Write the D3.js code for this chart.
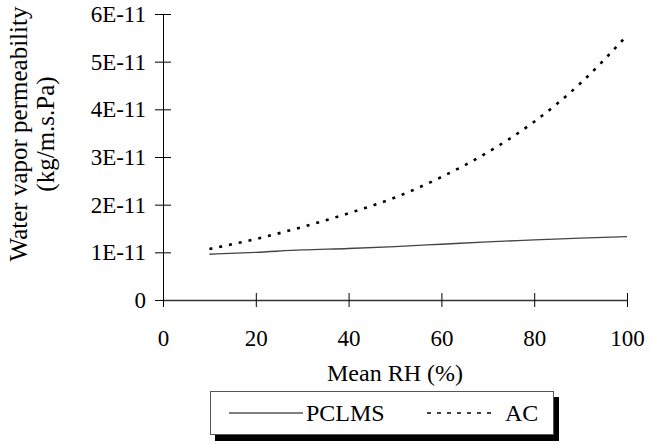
<!DOCTYPE html>
<html>
<head>
  <meta charset="UTF-8">
  <title>Water vapor permeability</title>
  <script src="https://d3js.org/d3.v7.min.js"></script>
</head>
<body style="margin:0; background:#fff">
  <script>
    // data
    var meanRH = [10, 20, 30, 40, 50, 60, 70, 80, 90, 100];
    var pclms = [0.96e-11, 1.00e-11, 1.05e-11, 1.08e-11, 1.12e-11, 1.17e-11, 1.22e-11, 1.26e-11, 1.30e-11, 1.33e-11];
    var ac = [1.07e-11, 1.28e-11, 1.53e-11, 1.82e-11, 2.15e-11, 2.58e-11, 3.10e-11, 3.74e-11, 4.55e-11, 5.55e-11];
    var xTicks = [0, 20, 40, 60, 80, 100];
    var yTicks = [0, 1e-11, 2e-11, 3e-11, 4e-11, 5e-11, 6e-11];
    var yTickLabels = ["0", "1E-11", "2E-11", "3E-11", "4E-11", "5E-11", "6E-11"];
    var seriesNames = ["PCLMS", "AC"];

    var serif = "'Liberation Serif', 'Times New Roman', serif";

    var svg = d3.select("body")
      .append("svg")
      .attr("width", 650)
      .attr("height", 444);

    var xScale = d3.scaleLinear().domain([0, 100]).range([163, 627]);
    var yScale = d3.scaleLinear().domain([0, 6e-11]).range([300, 14]);

    function serifText(sel, size) {
      sel.style("font-family", serif).style("font-size", size).attr("fill", "#000");
    }

    // y axis, ticks cross the line
    var yAxis = d3.axisLeft(yScale)
      .tickValues(yTicks)
      .tickFormat(function (d, i) { return yTickLabels[i]; })
      .tickSize(8)
      .tickSizeOuter(0)
      .tickPadding(9);

    var gy = svg.append("g")
      .attr("transform", "translate(" + xScale(0) + ",0)")
      .call(yAxis);
    gy.selectAll(".tick line").attr("x1", 8).attr("stroke", "#000");
    gy.select(".domain").attr("stroke", "#000");
    gy.selectAll("text").call(serifText, "23px");

    // x axis
    var xAxis = d3.axisBottom(xScale)
      .tickValues(xTicks)
      .tickFormat(d3.format("d"))
      .tickSize(7)
      .tickSizeOuter(0)
      .tickPadding(23);

    var gx = svg.append("g")
      .attr("transform", "translate(0," + yScale(0) + ")")
      .call(xAxis);
    gx.selectAll(".tick line").attr("y1", -7).attr("stroke", "#000");
    gx.select(".domain").attr("stroke", "#333").attr("stroke-width", 1.5);
    gx.selectAll("text").call(serifText, "23px");

    // lines
    var line = function (vals) {
      return d3.line()
        .x(function (d, i) { return xScale(meanRH[i]); })
        .y(function (d) { return yScale(d); })
        .curve(d3.curveMonotoneX)(vals);
    };

    svg.append("path")
      .attr("d", line(pclms))
      .attr("fill", "none")
      .attr("stroke", "#444")
      .attr("stroke-width", 1.3);

    svg.append("path")
      .attr("d", line(ac))
      .attr("fill", "none")
      .attr("stroke", "#000")
      .attr("stroke-width", 2.6)
      .attr("stroke-dasharray", "3,7");

    // axis titles
    svg.append("text")
      .attr("x", (xScale(0) + xScale(100)) / 2)
      .attr("y", 381)
      .attr("text-anchor", "middle")
      .text("Mean RH (%)")
      .call(serifText, "24px");

    svg.append("text")
      .attr("transform", "translate(27,134) rotate(-90)")
      .attr("text-anchor", "middle")
      .text("Water vapor permeability")
      .call(serifText, "25px");
    svg.append("text")
      .attr("transform", "translate(54,134) rotate(-90)")
      .attr("text-anchor", "middle")
      .text("(kg/m.s.Pa)")
      .call(serifText, "25px");

    // legend with drop shadow
    var lg = svg.append("g");
    lg.append("rect")
      .attr("x", 215).attr("y", 397)
      .attr("width", 344).attr("height", 44)
      .attr("fill", "#000");
    lg.append("rect")
      .attr("x", 210.5).attr("y", 391.5)
      .attr("width", 343).attr("height", 43)
      .attr("fill", "#fff")
      .attr("stroke", "#555");

    lg.append("line")
      .attr("x1", 229).attr("x2", 303)
      .attr("y1", 413).attr("y2", 413)
      .attr("stroke", "#000").attr("stroke-width", 1.2);
    lg.append("text")
      .attr("x", 306).attr("y", 421)
      .text(seriesNames[0])
      .call(serifText, "24px");

    lg.append("line")
      .attr("x1", 427).attr("x2", 497)
      .attr("y1", 413).attr("y2", 413)
      .attr("stroke", "#000").attr("stroke-width", 1.6)
      .attr("stroke-dasharray", "4,6");
    lg.append("text")
      .attr("x", 505).attr("y", 421)
      .text(seriesNames[1])
      .call(serifText, "24px");
  </script>
</body>
</html>
